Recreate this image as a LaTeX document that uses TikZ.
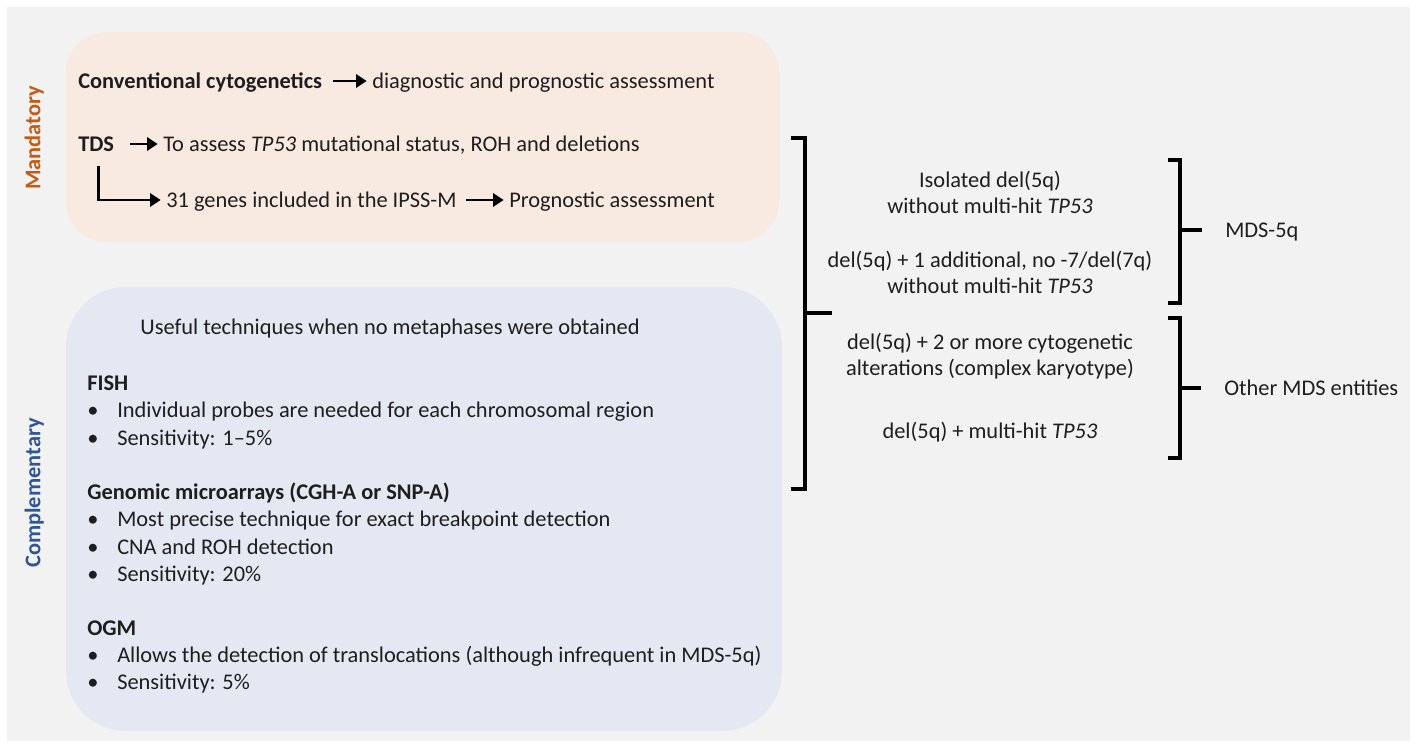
\documentclass[tikz,border=0pt]{standalone}
\usepackage{fontspec}
\setmainfont{Carlito}
\usepackage{tikz}
\usetikzlibrary{positioning}
\usetikzlibrary{arrows.meta}
\definecolor{panel}{HTML}{F2F2F2}
\definecolor{peach}{HTML}{F8EAE1}
\definecolor{bluegray}{HTML}{E3E8F2}
\definecolor{mandcol}{HTML}{C55A11}
\definecolor{compcol}{HTML}{2F5597}
\definecolor{ink}{HTML}{1E1E1E}
\newcommand{\fs}{\fontsize{16.8}{20}\selectfont}
\newcommand{\bul}{\makebox[22.5pt][l]{\textbullet}}

\begin{document}
\begin{tikzpicture}[x=0.75pt, y=-0.75pt,
    every node/.style={inner sep=0pt, text=ink, text height=12pt, text depth=1pt, font=\fs},
    txt/.style={anchor=west},
    hdr/.style={anchor=west, font=\fs\bfseries},
    side/.style={rotate=90, font=\fs\bfseries},
    arr/.style={-{Triangle[length=8pt, width=10pt]}, line width=2.2pt, shorten >=4pt},
    brk/.style={line width=2.5pt}]
    % background and boxes
    \fill[white] (0,0) rectangle (1418,747);
    \fill[panel] (7,7) rectangle (1410,741);
    \fill[peach, rounded corners=30pt] (66,32) rectangle (779,242);
    \fill[bluegray, rounded corners=45pt] (66,287) rectangle (782,731);

    % mandatory
    \node[side, text=mandcol] at (33,138) (mand) {Mandatory} ;
    \node[hdr] at (78,81) (conv) {Conventional cytogenetics} ;
    \node[txt] at (372,81) (diag) {diagnostic and prognostic assessment} ;
    \node[hdr] at (78,144) (tds) {TDS} ;
    \node[txt] at (163,144) (assess) {To assess \textit{TP53} mutational status, ROH and deletions} ;
    \node[txt] at (166,200) (genes) {31 genes included in the IPSS-M} ;
    \node[txt] at (509,200) (prog) {Prognostic assessment} ;
    \draw[arr, shorten <=8pt] (conv) -- (diag) ;
    \draw[arr, shorten <=12pt] (tds) -- (assess) ;
    \draw[arr, shorten <=10pt] ([xshift=2pt]tds.south) |- (genes.west) ;
    \draw[arr, shorten <=7pt] (genes) -- (prog) ;

    % complementary
    \node[side, text=compcol] at (33,493) (comp) {Complementary} ;
    \node at (390,327) (useful) {Useful techniques when no metaphases were obtained} ;
    \node[hdr] at (87,383) (fish) {FISH} ;
    \node[txt] at (87,410) (fish1) {\bul Individual probes are needed for each chromosomal region} ;
    \node[txt] at (87,438) (fish2) {\bul Sensitivity: 1–5\%} ;
    \node[hdr] at (87,492) (arrays) {Genomic microarrays (CGH-A or SNP-A)} ;
    \node[txt] at (87,519) (arrays1) {\bul Most precise technique for exact breakpoint detection} ;
    \node[txt] at (87,547) (arrays2) {\bul CNA and ROH detection} ;
    \node[txt] at (87,574) (arrays3) {\bul Sensitivity: 20\%} ;
    \node[hdr] at (87,628) (ogm) {OGM} ;
    \node[txt] at (87,655) (ogm1) {\bul Allows the detection of translocations (although infrequent in MDS-5q)} ;
    \node[txt] at (87,682) (ogm2) {\bul Sensitivity: 5\%} ;

    % del(5q) groups
    \draw[brk] (791,138) -- (805,138) -- (805,489) -- (791,489) ;
    \draw[brk] (805,313) -- (832,313) ;
    \node at (990,180) (iso) {Isolated del(5q)} ;
    \node at (990,206) (iso2) {without multi-hit \textit{TP53}} ;
    \node at (990,260) (add) {del(5q) + 1 additional, no -7/del(7q)} ;
    \node at (990,286) (add2) {without multi-hit \textit{TP53}} ;
    \node at (990,342) (cplx) {del(5q) + 2 or more cytogenetic} ;
    \node at (990,368) (cplx2) {alterations (complex karyotype)} ;
    \node at (990,431) (mhit) {del(5q) + multi-hit \textit{TP53}} ;

    % classification
    \node[txt] at (1225,230) (mds) {MDS-5q} ;
    \node[txt] at (1224,388) (other) {Other MDS entities} ;
    \draw[brk] (1168,160) -- (1180,160) -- (1180,303) -- (1168,303) ;
    \draw[brk] (1168,318) -- (1180,318) -- (1180,458) -- (1168,458) ;
    \coordinate (b1) at (1180,230) ;
    \coordinate (b2) at (1180,388) ;
    \draw[brk] (b1) -- ([xshift=-17pt]mds.west) ;
    \draw[brk] (b2) -- ([xshift=-17pt]other.west) ;
\end{tikzpicture}
\end{document}
